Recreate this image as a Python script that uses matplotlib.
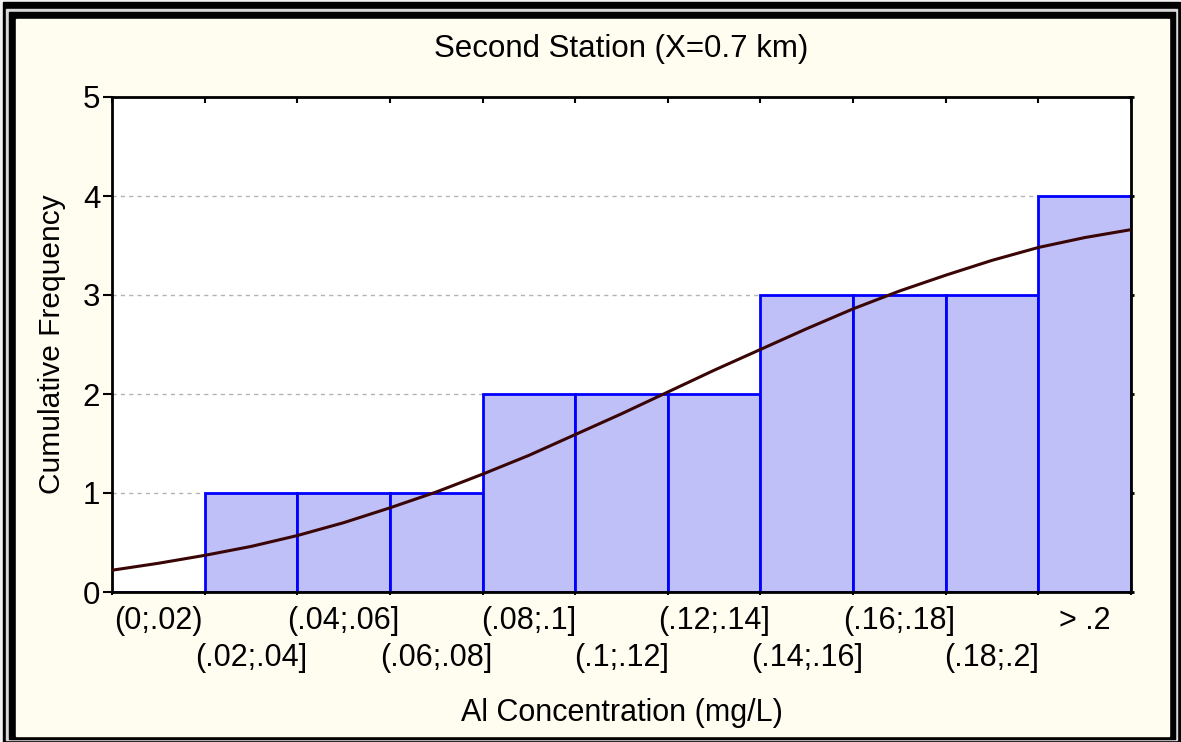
import numpy as np
import matplotlib.pyplot as plt
from matplotlib.patches import Rectangle

plt.rcParams['font.family'] = ['Liberation Sans', 'DejaVu Sans']

# class intervals and cumulative counts
bins = ['(0;.02)', '(.02;.04]', '(.04;.06]', '(.06;.08]', '(.08;.1]', '(.1;.12]',
        '(.12;.14]', '(.14;.16]', '(.16;.18]', '(.18;.2]', '> .2']
cum_freq = [0, 1, 1, 1, 2, 2, 2, 3, 3, 3, 4]

# expected normal curve, read every half class
curve_u = [0, 0.5, 1, 1.5, 2, 2.5, 3, 3.5, 4, 4.5, 5, 5.5, 6, 6.5, 7, 7.5, 8,
           8.5, 9, 9.5, 10, 10.5, 11]
curve_y = [0.22, 0.29, 0.37, 0.46, 0.57, 0.70, 0.85, 1.01, 1.19, 1.38, 1.59,
           1.80, 2.02, 2.24, 2.45, 2.66, 2.86, 3.04, 3.20, 3.35, 3.48, 3.58, 3.66]

W, H = 1181, 742
fig = plt.figure(figsize=(W / 100, H / 100), dpi=100)

# frame around the whole figure
bg = fig.add_axes([0, 0, 1, 1], zorder=-1)
bg.set_xlim(0, W)
bg.set_ylim(H, 0)
bg.axis('off')
bg.add_patch(Rectangle((0, 0), W, H, color='#f2f2f2'))
bg.add_patch(Rectangle((3, 2), 1177, 740, color='black'))
bg.add_patch(Rectangle((6, 9), 1171, 731, color='#d8d8d8'))
bg.add_patch(Rectangle((9, 12), 1166, 727, color='black'))
bg.add_patch(Rectangle((16, 19), 1153, 717, color='#fffcf0'))

ax = fig.add_axes([112 / W, 1 - 592 / H, 1019 / W, 495 / H])
ax.set_facecolor('white')

x = np.arange(len(bins))
ax.bar(x, cum_freq, width=1.0, color='#c0c0f8', edgecolor='#0000ff',
       linewidth=2, zorder=2)
ax.plot(np.array(curve_u) - 0.5, curve_y, color='#3a0505', linewidth=2.2, zorder=3)

ax.set_xlim(-0.5, len(bins) - 0.5)
ax.set_ylim(0, 5)
ax.set_yticks(range(6))
ax.yaxis.grid(True, linestyle=(0, (3, 3)), color='#b4b4b4', linewidth=1)
ax.set_axisbelow(True)

# ticks at class edges, labels at class centres in two rows
ax.set_xticks(np.arange(len(bins) + 1) - 0.5)
ax.set_xticklabels([])
ax.set_xticks(x[::2], minor=True)
ax.set_xticklabels(bins[::2], minor=True, fontsize=22)
ax.tick_params(axis='x', which='major', direction='out', length=2, width=1.5)
ax.tick_params(axis='x', which='minor', length=0, pad=10)
ax.tick_params(axis='y', direction='out', length=6.5, width=1.5, labelsize=22.5, pad=2)

row2 = ax.secondary_xaxis('bottom')
row2.set_xticks(x[1::2])
row2.set_xticklabels(bins[1::2], fontsize=22)
row2.tick_params(length=0, pad=37)
row2.spines['bottom'].set_visible(False)

for s in ax.spines.values():
    s.set_linewidth(2)

top = ax.secondary_xaxis('top')
top.set_xticks(np.arange(len(bins) + 1) - 0.5)
top.set_xticklabels([])
top.tick_params(direction='in', length=4, width=1.5)
right = ax.secondary_yaxis('right')
right.set_yticks(range(6))
right.set_yticklabels([])
right.tick_params(direction='inout', length=5, width=2)

ax.set_title('Second Station (X=0.7 km)', fontsize=22.5, pad=29)
ax.set_ylabel('Cumulative Frequency', fontsize=21.5, labelpad=12)
row2.set_xlabel('Al Concentration (mg/L)', fontsize=22, labelpad=18)

fig.savefig('out.png', dpi=100)
